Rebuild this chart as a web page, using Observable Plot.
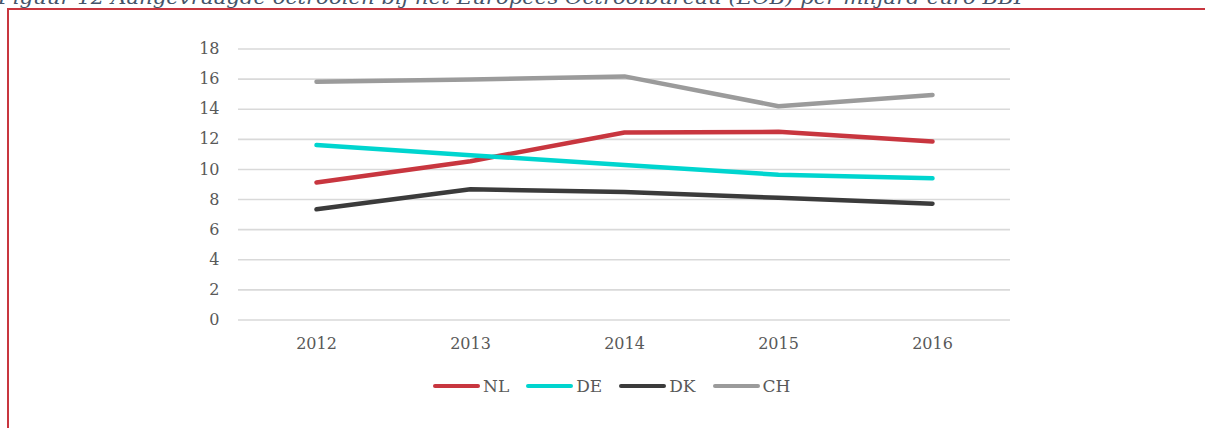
<!DOCTYPE html>
<html>
<head>
<meta charset="utf-8">
<script src="https://cdn.jsdelivr.net/npm/d3@7"></script>
<script src="https://cdn.jsdelivr.net/npm/@observablehq/plot@0.6"></script>
<style>
  html, body { margin: 0; padding: 0; background: #fff; overflow: hidden; }
  #wrap { position: relative; width: 1205px; height: 428px; overflow: hidden; }
  #border { position: absolute; left: 7px; top: 8px; width: 1260px; height: 500px;
            border-left: 2px solid #c8363f; border-top: 2px solid #c8363f; box-sizing: border-box; }
  #title { position: absolute; left: 0; top: 0; }
  #chart { position: absolute; left: 0; top: 0; }
  #legend { position: absolute; left: 433px; top: 376px; display: flex; align-items: center;
            font-family: "DejaVu Serif", serif; font-size: 17px; color: #595959; }
  .item { display: flex; align-items: center; margin-right: 17px; }
  .sw { width: 47px; height: 4px; border-radius: 2px; margin-right: 3px; }
</style>
</head>
<body>
<div id="wrap">
  <div id="border"></div>
  <svg id="title" width="1205" height="12">
    <text x="-2" y="3.5" textLength="1030" lengthAdjust="spacingAndGlyphs"
      font-family="DejaVu Serif, serif" font-style="italic" font-size="19" fill="#44546a">Figuur 12 Aangevraagde octrooien bij het Europees Octrooibureau (EOB) per miljard euro BBP</text>
  </svg>
  <div id="chart"></div>
  <div id="legend"></div>
</div>
<script>
const years = ["2012", "2013", "2014", "2015", "2016"];
const series = ["NL", "DE", "DK", "CH"];
const colors = ["#c8363f", "#00d5cf", "#3b3b3b", "#9b9b9b"];
const yTicks = [0, 2, 4, 6, 8, 10, 12, 14, 16, 18];
const NL = [9.13, 10.55, 12.45, 12.5, 11.85];
const DE = [11.62, 10.95, 10.3, 9.65, 9.42];
const DK = [7.35, 8.68, 8.5, 8.12, 7.72];
const CH = [15.82, 15.97, 16.18, 14.2, 14.95];

const valuesBySeries = {NL, DE, DK, CH};
const data = series.flatMap(s => years.map((y, i) => ({series: s, year: y, value: valuesBySeries[s][i]})));

const chart = Plot.plot({
  width: 1205,
  height: 360,
  marginLeft: 238,
  marginRight: 195,
  marginTop: 48.5,
  marginBottom: 40.5,
  style: {fontFamily: "DejaVu Serif, serif", fontSize: "16px", color: "#595959", background: "transparent"},
  x: {type: "point", domain: years, padding: 0.5, label: null},
  y: {domain: [0, 18], label: null},
  color: {domain: series, range: colors},
  marks: [
    Plot.ruleY(yTicks, {stroke: "#d9d9d9", strokeWidth: 1.6}),
    Plot.axisY({ticks: yTicks, tickSize: 0, tickPadding: 19, label: null}),
    Plot.axisX({tickSize: 0, tickPadding: 18, label: null}),
    Plot.line(data, {x: "year", y: "value", z: "series", stroke: "series",
      strokeWidth: 4.5, strokeLinecap: "round", strokeLinejoin: "round"})
  ]
});
document.getElementById("chart").appendChild(chart);

const legend = document.getElementById("legend");
series.forEach((s, i) => {
  const it = document.createElement("div");
  it.className = "item";
  const sw = document.createElement("span");
  sw.className = "sw";
  sw.style.background = colors[i];
  const t = document.createElement("span");
  t.textContent = s;
  it.appendChild(sw);
  it.appendChild(t);
  legend.appendChild(it);
});
</script>
</body>
</html>
